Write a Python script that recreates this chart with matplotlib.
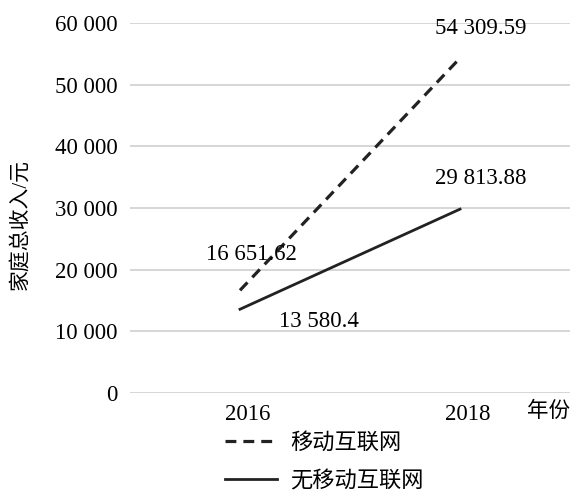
import matplotlib
matplotlib.use('Agg')
import matplotlib.pyplot as plt
import matplotlib.transforms as mtransforms
from matplotlib.lines import Line2D

plt.rcParams['font.family'] = ['Liberation Serif', 'Noto Sans CJK SC']

years = ['2016', '2018']
mobile = [16651.62, 54309.59]
no_mobile = [13580.4, 29813.88]
series_names = ['移动互联网', '无移动互联网']
y_ticks = [0, 10000, 20000, 30000, 40000, 50000, 60000]

def fmt(v):
    s = '{:,}'.format(v).replace(',', ' ')
    return s

fig = plt.figure(figsize=(5.77, 4.96), dpi=100)
ax = fig.add_axes([130/577, 1 - 393/496, 440/577, 370/496])

x = [0, 1]
dash = (0, (3.4, 2.2))
ax.plot(x, mobile, color='#222222', lw=2.3, ls=dash)
ax.plot(x, no_mobile, color='#222222', lw=2.0)

ax.set_xlim(-0.5, 1.5)
ax.set_ylim(0, 60000)
ax.set_yticks(y_ticks)
ax.set_yticklabels([fmt(v) for v in y_ticks], fontsize=16.5)
ax.set_xticks(x)
ax.set_xticklabels(years, fontsize=16.5)
ax.tick_params(length=0)
ax.tick_params(axis='y', pad=9)
ax.tick_params(axis='x', pad=8)
shift = mtransforms.ScaledTranslation(8/100, 0, fig.dpi_scale_trans)
for lbl in ax.get_xticklabels():
    lbl.set_transform(lbl.get_transform() + shift)
ax.grid(axis='y', color='#d0d0d0', lw=1.2)
ax.set_axisbelow(True)
for s in ax.spines.values():
    s.set_visible(False)

# data labels
lab = dict(textcoords='offset points', ha='center', va='center', fontsize=16.5)
ax.annotate(fmt(mobile[0]), (x[0], mobile[0]), xytext=(8, 26), **lab)
ax.annotate(fmt(mobile[1]), (x[1], mobile[1]), xytext=(15, 21), **lab)
ax.annotate(fmt(no_mobile[0]), (x[0], no_mobile[0]), xytext=(57, -9), **lab)
ax.annotate(fmt(no_mobile[1]), (x[1], no_mobile[1]), xytext=(15, 22), **lab)

fig.text(20/577, 1 - 225/496, '家庭总收入/元', fontsize=15, rotation=90,
         ha='center', va='center')
fig.text(527/577, 1 - 412/496, '年份', fontsize=15.5, va='center', ha='left')

handles = [Line2D([], [], color='#222222', lw=2.3, ls=dash),
           Line2D([], [], color='#222222', lw=2.0)]
fig.legend(handles, series_names, loc='upper left', bbox_to_anchor=(225/577, 1 - 433/496),
           frameon=False, fontsize=16, handlelength=2.35, handletextpad=0.58,
           labelspacing=0.78, borderaxespad=0, borderpad=0)

fig.savefig('out.png', dpi=100)
